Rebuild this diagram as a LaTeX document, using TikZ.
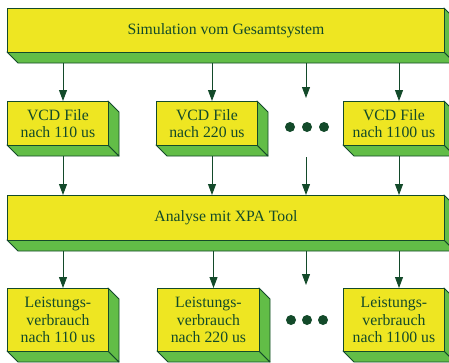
\documentclass[tikz,border=0pt]{standalone}
\usepackage{fontspec}
\setmainfont{Liberation Serif}
\usetikzlibrary{arrows.meta}
\definecolor{yel}{HTML}{EEE622}
\definecolor{grn}{HTML}{62BD47}
\definecolor{dk}{HTML}{134A2A}
\tikzset{
  face/.style={draw=dk, fill=yel, line width=0.9bp, inner sep=0pt, text=dk,
    font=\fontsize{15.8}{17.5}\selectfont, align=center, anchor=north west},
  ext/.style={draw=dk, fill=grn, line width=0.9bp, line join=round},
  arr/.style={draw=dk, line width=0.9bp, -{Triangle[length=11bp,width=8bp]}},
  bigdot/.style={circle, fill=dk, inner sep=0pt, minimum size=10bp},
}
\newcommand\exbox[6]{%
  \draw[ext] (#2,#5) -- (#4,#5) -- (#4+11,#5+11) -- (#2+11,#5+11) -- cycle;
  \draw[ext] (#4,#3) -- (#4+11,#3+11) -- (#4+11,#5+11) -- (#4,#5) -- cycle;
  \node[face, minimum width={(#4-#2)*1bp}, minimum height={(#5-#3)*1bp}] (#1) at (#2,#3) {#6};
  \coordinate (#1-b) at ({(#2+#4+11)/2},#5+11);
  \coordinate (#1-t) at ({(#2+#4+11)/2},#3);
}
\begin{document}
\begin{tikzpicture}[x=1bp,y=-1bp]
\useasboundingbox (0,0) rectangle (449,362);
\clip (0,0) rectangle (449,362);
% top
\exbox{sim}{7}{8}{444}{52}{Simulation vom Gesamtsystem}
% row 1
\exbox{v1}{7}{101}{108}{145}{VCD File\\nach 110 us}
\exbox{v2}{156}{101}{257}{145}{VCD File\\nach 220 us}
\exbox{v3}{343}{101}{444}{145}{VCD File\\nach 1100 us}
\node[bigdot] (d1) at (290,127) {};
\node[bigdot] (d2) at (307,127) {};
\node[bigdot] (d3) at (324,127) {};
\coordinate (dt) at (306,98);
\coordinate (db) at (306,157);
% middle
\exbox{xpa}{7}{195}{444}{240}{Analyse mit XPA Tool}
% row 3
\exbox{l1}{7}{288}{108}{351}{Leistungs-\\verbrauch\\nach 110 us}
\exbox{l2}{157}{288}{259}{351}{Leistungs-\\verbrauch\\nach 220 us}
\exbox{l3}{343}{288}{444}{351}{Leistungs-\\verbrauch\\nach 1100 us}
\node[bigdot] (e1) at (291,320) {};
\node[bigdot] (e2) at (307,320) {};
\node[bigdot] (e3) at (323,320) {};
\coordinate (dt3) at (306,285);
% arrows
\draw[arr] (sim-b -| v1-t) -- (v1-t);
\draw[arr] (sim-b -| v2-t) -- (v2-t);
\draw[arr] (sim-b -| dt) -- (dt);
\draw[arr] (sim-b -| v3-t) -- (v3-t);
\draw[arr] (v1-b) -- (xpa.north -| v1-b);
\draw[arr] (v2-b) -- (xpa.north -| v2-b);
\draw[arr] (db) -- (xpa.north -| db);
\draw[arr] (v3-b) -- (xpa.north -| v3-b);
\draw[arr] (xpa-b -| l1-t) -- (l1-t);
\draw[arr] (xpa-b -| l2-t) -- (l2-t);
\draw[arr] (xpa-b -| dt3) -- (dt3);
\draw[arr] (xpa-b -| l3-t) -- (l3-t);
\end{tikzpicture}
\end{document}
